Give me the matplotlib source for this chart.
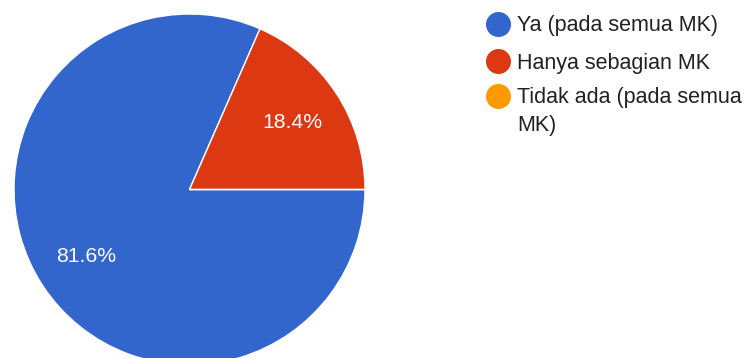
import matplotlib.pyplot as plt
from matplotlib.lines import Line2D

plt.rcParams['font.family'] = ['Liberation Sans', 'DejaVu Sans']

# responses per answer
labels = ["Ya (pada semua MK)", "Hanya sebagian MK", "Tidak ada (pada semua\nMK)"]
counts = [31, 7, 0]
colors = ["#3366CC", "#DC3912", "#FF9900"]

W, H = 745, 358
fig = plt.figure(figsize=(W / 100, H / 100), dpi=100)

# pie axes, placed in pixels (center ~ (189.5, 189.5) from top, radius 175.5)
radius_px = 175.5
cx, cy = 189.5, 189.5
ax = fig.add_axes([(cx - radius_px) / W, (H - cy - radius_px) / H,
                   2 * radius_px / W, 2 * radius_px / H])


def fmt_pct(p):
    return "%.1f%%" % p if p > 0 else ""


wedges, texts, autotexts = ax.pie(
    counts, colors=colors, startangle=0, counterclock=False,
    autopct=fmt_pct, pctdistance=0.7,
    wedgeprops=dict(edgecolor="white", linewidth=1.0),
    textprops=dict(color="white", fontsize=15.3))
ax.set_xlim(-1, 1)
ax.set_ylim(-1, 1)
ax.set_aspect("equal")
ax.axis("off")

# legend drawn by hand so the marker sits on the first text line
row_y = [24, 61, 96]
line_step = 27
for lab, col, y in zip(labels, colors, row_y):
    fig.add_artist(Line2D([498 / W], [1 - y / H], transform=fig.transFigure,
                          marker="o", markersize=17, color=col, linestyle="none"))
    for i, part in enumerate(lab.split("\n")):
        base = y + 7.5 + i * line_step
        fig.text(517 / W, 1 - base / H, part, color="#222222", fontsize=15.5,
                 va="baseline", ha="left")

fig.savefig("out.png", dpi=100)
